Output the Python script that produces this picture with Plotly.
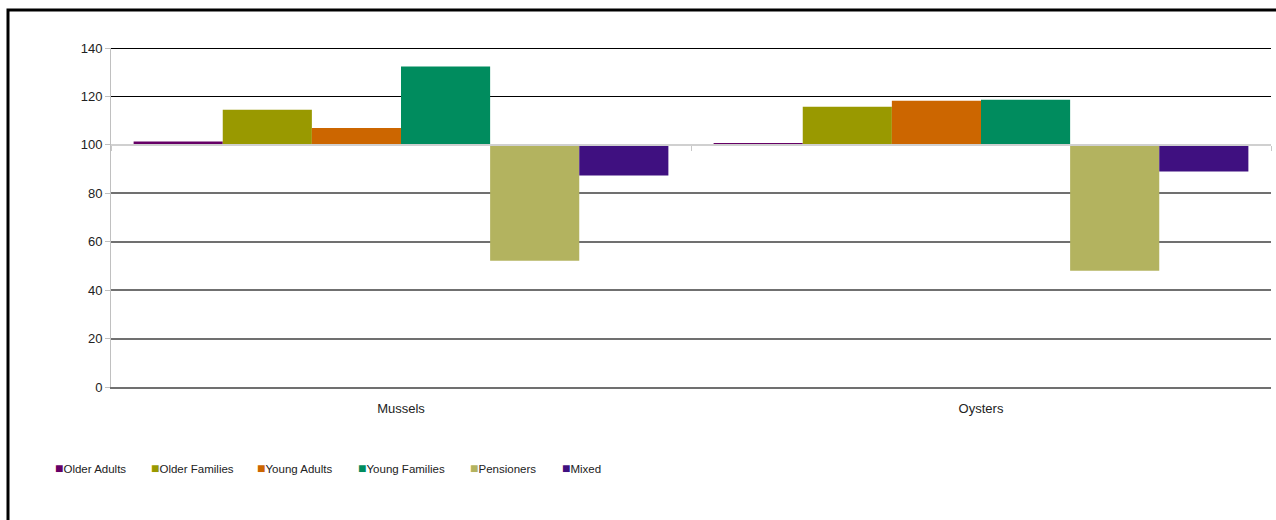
import plotly.graph_objects as go

# Index values (100 = average) by shellfish product and household segment
categories = ["Mussels", "Oysters"]
segments = ["Older Adults", "Older Families", "Young Adults",
            "Young Families", "Pensioners", "Mixed"]
older_adults = [101.4, 100.5]
older_families = [114.5, 115.7]
young_adults = [107.0, 118.2]
young_families = [132.4, 118.6]
pensioners = [52.1, 48.0]
mixed = [87.3, 89.0]
y_ticks = [0, 20, 40, 60, 80, 100, 120, 140]

series = [older_adults, older_families, young_adults,
          young_families, pensioners, mixed]
colors = ["#660066", "#999900", "#CC6600", "#008C5E", "#B3B35F", "#3F1080"]
BASE = 100

FONT = "Arial, 'Liberation Sans', sans-serif"
W, H = 1276, 520
ML, MR, MT, MB = 111, 5, 48, 133
PW, PH = W - ML - MR, H - MT - MB

# left edge (px) of each legend key along the bottom row
legend_left_px = [55, 151, 257, 358, 470, 562]
LEGEND_TEXT_OFFSET = 40  # plotly's fixed offset from legend box to entry text

ABOVE_GRID = "#000000"
BELOW_GRID = "#707070"

fig = go.Figure()

# bars start at the index baseline of 100
for name, vals, col in zip(segments, series, colors):
    fig.add_trace(go.Bar(
        x=categories, y=[v - BASE for v in vals], base=BASE,
        name=name, marker=dict(color=col, line=dict(width=0)),
        showlegend=False,
    ))

# legend entries: a coloured square glyph followed by the segment name
for i, (name, col) in enumerate(zip(segments, colors)):
    fig.add_trace(go.Scatter(
        x=[None], y=[None], mode="markers",
        name=f'<span style="color:{col};font-size:14px">■</span>{name}',
        marker=dict(size=1, color="rgba(0,0,0,0)"),
        legend="legend" if i == 0 else f"legend{i + 1}",
        showlegend=True, hoverinfo="skip",
    ))

# helper traces that activate the overlay axes
for ax in [dict(yaxis="y2"), dict(yaxis="y3"), dict(xaxis="x2"), dict(xaxis="x3")]:
    fig.add_trace(go.Scatter(x=[None], y=[None], showlegend=False, hoverinfo="skip", **ax))

ymax = y_ticks[-1]
yrange = [0, ymax]

legend_style = dict(
    orientation="h", xanchor="left",
    y=(MT + PH - 468) / PH, yanchor="middle",
    font=dict(family=FONT, size=11.5, color="#222222"),
    itemwidth=30, bgcolor="rgba(0,0,0,0)", borderwidth=0,
)
legends = {}
for i, left in enumerate(legend_left_px):
    key = "legend" if i == 0 else f"legend{i + 1}"
    legends[key] = dict(legend_style, x=(left - LEGEND_TEXT_OFFSET - ML) / PW)

fig.update_layout(
    width=W, height=H,
    margin=dict(l=ML, r=MR, t=MT, b=MB, pad=0),
    paper_bgcolor="white", plot_bgcolor="white",
    barmode="group", bargap=0.078, bargroupgap=0,
    font=dict(family=FONT, size=13, color="#222222"),
    # category labels; its line doubles as the bottom (0) gridline
    xaxis=dict(
        type="category", categoryarray=categories,
        showline=True, linecolor=BELOW_GRID, linewidth=1.6,
        showgrid=False, zeroline=False,
        ticks="", ticklabelstandoff=9,
        tickfont=dict(size=13, color="#222222"),
    ),
    # category axis drawn across the baseline
    xaxis2=dict(
        overlaying="x", anchor="free", position=BASE / ymax,
        range=[-0.5, len(categories) - 0.5],
        tickvals=[i - 0.5 for i in range(len(categories) + 1)],
        showticklabels=False, ticks="outside", ticklen=5,
        tickcolor="#c8c8c8", showline=True, linecolor="#d0d0d0",
        linewidth=1.5, showgrid=False, zeroline=False,
    ),
    # top edge line (140 gridline)
    xaxis3=dict(
        overlaying="x", anchor="free", position=1, side="top",
        showline=True, linecolor=ABOVE_GRID, linewidth=1.2,
        showticklabels=False, ticks="", showgrid=False, zeroline=False,
    ),
    yaxis=dict(
        range=yrange, tickvals=y_ticks,
        showgrid=False, zeroline=False,
        showline=True, linecolor="#c0c0c0", linewidth=1,
        ticks="outside", ticklen=5, tickcolor="#c0c0c0",
        tickfont=dict(size=13, color="#222222"),
    ),
    yaxis2=dict(
        overlaying="y", range=yrange,
        tickvals=[t for t in y_ticks if t > BASE],
        showgrid=True, gridcolor=ABOVE_GRID, gridwidth=1.2,
        showticklabels=False, ticks="", zeroline=False, showline=False,
    ),
    yaxis3=dict(
        overlaying="y", range=yrange,
        tickvals=[t for t in y_ticks if t < BASE],
        showgrid=True, gridcolor=BELOW_GRID, gridwidth=1.6,
        showticklabels=False, ticks="", zeroline=False, showline=False,
    ),
    shapes=[dict(
        type="rect", xref="paper", yref="paper",
        x0=(8 - ML) / PW, x1=(W + 20 - ML) / PW,
        y0=(MT + PH - (H + 20)) / PH, y1=(MT + PH - 10) / PH,
        line=dict(color="black", width=3), fillcolor="rgba(0,0,0,0)",
        layer="above",
    )],
    **legends,
)

fig.write_html("out.html")
